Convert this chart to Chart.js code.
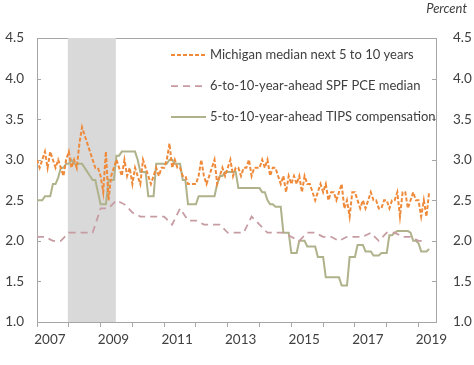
<!DOCTYPE html>
<html>
<head>
<meta charset="utf-8">
<script src="https://cdn.jsdelivr.net/npm/chart.js@4.4.1/dist/chart.umd.min.js"></script>
<style>
  html, body { margin: 0; padding: 0; background: #fff; }
  #wrap { width: 474px; height: 365px; }
</style>
</head>
<body>
<div id="wrap"><canvas id="chart" width="474" height="365"></canvas></div>
<script>
// Monthly series, starting Jan 2007
const michigan = [
  3.0, 2.9, 3.0, 3.1, 2.9, 3.1, 3.0, 2.9, 3.0, 2.9, 2.8, 3.0,
  3.1, 2.9, 3.0, 2.9, 3.2, 3.4, 3.3, 3.2, 3.1, 3.0, 2.9, 2.9,
  2.8, 2.6, 3.1, 2.5, 2.8, 2.9, 3.0, 2.9, 2.8, 3.0, 2.8, 2.9,
  2.7, 2.9, 2.8, 2.7, 3.0, 2.9, 2.8, 2.7, 2.8, 2.9, 2.8, 2.9,
  2.9, 3.0, 3.2, 2.9, 3.0, 2.9, 2.9, 2.8, 2.8, 2.7, 2.7, 2.7,
  2.7, 2.8, 3.0, 2.8, 2.7, 2.8, 2.9, 3.0, 2.7, 2.8, 2.9, 2.8,
  2.9, 3.0, 2.8, 2.9, 2.9, 2.8, 2.9, 2.9, 3.0, 2.8, 2.9, 2.9,
  2.9, 3.0, 2.9, 3.0, 2.8, 2.9, 2.9, 2.8, 2.7, 2.8, 2.6, 2.8,
  2.7, 2.8, 2.7, 2.8, 2.6, 2.8, 2.7, 2.7, 2.6, 2.5, 2.6, 2.7,
  2.6, 2.7, 2.5, 2.6, 2.6, 2.5, 2.6, 2.7, 2.4, 2.5, 2.3, 2.6,
  2.6, 2.5, 2.4, 2.5, 2.4, 2.5, 2.6, 2.5, 2.5, 2.4, 2.4, 2.5,
  2.5, 2.4, 2.5, 2.5, 2.6, 2.3, 2.6, 2.6, 2.4, 2.5, 2.6, 2.5,
  2.5, 2.3, 2.5, 2.3, 2.6
];
const tips = [
  2.5, 2.5, 2.5, 2.55, 2.55, 2.55, 2.7, 2.7, 2.78, 2.9, 2.9, 2.95,
  2.95, 3.0, 2.95, 2.95, 2.95, 2.95, 2.9, 2.85, 2.8, 2.75, 2.75, 2.6,
  2.45, 2.45, 2.45, 2.75, 2.75, 2.75, 3.05, 3.05, 3.1, 3.1, 3.1, 3.1,
  3.1, 3.1, 3.0, 2.85, 2.85, 2.85, 2.55, 2.55, 2.55, 2.95, 2.95, 2.95,
  2.95, 2.95, 3.0, 3.0, 2.95, 2.95, 2.95, 2.75, 2.75, 2.45, 2.45, 2.45,
  2.45, 2.55, 2.55, 2.55, 2.55, 2.55, 2.55, 2.55, 2.7, 2.8, 2.8, 2.85,
  2.85, 2.85, 2.85, 2.85, 2.65, 2.65, 2.65, 2.65, 2.65, 2.65, 2.65, 2.65,
  2.65, 2.6, 2.6, 2.5, 2.45, 2.45, 2.42, 2.42, 2.42, 2.1, 2.1, 2.1,
  1.85, 1.85, 1.85, 2.0, 2.0, 2.0, 1.93, 1.93, 1.93, 1.93, 1.8, 1.8,
  1.8, 1.55, 1.55, 1.55, 1.55, 1.55, 1.55, 1.45, 1.45, 1.45, 1.8, 1.8,
  1.8, 1.95, 1.95, 1.95, 1.87, 1.87, 1.87, 1.82, 1.82, 1.82, 1.85, 1.85,
  1.85, 2.07, 2.07, 2.1, 2.12, 2.12, 2.12, 2.12, 2.12, 2.1, 2.0, 2.0,
  1.97, 1.87, 1.87, 1.87, 1.9
];
// Quarterly, starting 2007 Q1
const spf = [
  2.05, 2.05, 2.0, 2.0, 2.1, 2.1, 2.1, 2.1, 2.4, 2.4,
  2.5, 2.45, 2.35, 2.3, 2.3, 2.3, 2.3, 2.2, 2.4, 2.25,
  2.25, 2.2, 2.2, 2.2, 2.1, 2.1, 2.1, 2.3, 2.2, 2.1,
  2.1, 2.1, 2.05, 2.0, 2.1, 2.1, 2.05, 2.05, 2.0, 2.05,
  2.05, 2.05, 2.1, 2.0, 2.1, 2.1, 2.05, 2.05, 2.0, 2.0
];
const startYear = 2007;
const endYear = 2019;
const yearLabels = [2007, 2009, 2011, 2013, 2015, 2017, 2019];
const recession = [2007.97, 2009.48];
const seriesNames = [
  'Michigan median next 5 to 10 years',
  '6-to-10-year-ahead SPF PCE median',
  '5-to-10-year-ahead TIPS compensation'
];

const FONT = 'Lato, "Open Sans", sans-serif';
const TEXT = '#404040';
const AXIS = '#a6a6a6';

const monthly = arr => arr.map((v, i) => ({ x: startYear + i / 12, y: v }));
const quarterly = arr => arr.map((v, i) => ({ x: startYear + i / 4, y: v }));
const isInt = v => Math.abs(v - Math.round(v)) < 1e-6;

// year boundaries get tick marks, mid-year positions carry the labels
const xTicks = [];
for (let yr = startYear; yr <= endYear; yr++) {
  xTicks.push({ value: yr });
  if (yearLabels.includes(yr)) xTicks.push({ value: yr + 0.5 });
}

// recession shading + inward y ticks
const backdrop = {
  id: 'backdrop',
  beforeDatasetsDraw(chart) {
    const { ctx, chartArea: a, scales } = chart;
    const x0 = scales.x.getPixelForValue(recession[0]);
    const x1 = scales.x.getPixelForValue(recession[1]);
    ctx.save();
    ctx.fillStyle = '#d9d9d9';
    ctx.fillRect(x0, a.top, x1 - x0, a.bottom - a.top);
    ctx.strokeStyle = AXIS;
    ctx.lineWidth = 1;
    scales.y.ticks.forEach(t => {
      const y = Math.round(scales.y.getPixelForValue(t.value)) + 0.5;
      ctx.beginPath();
      ctx.moveTo(a.left, y); ctx.lineTo(a.left + 4, y);
      ctx.moveTo(a.right - 4, y); ctx.lineTo(a.right, y);
      ctx.stroke();
    });
    ctx.restore();
  }
};

// legend inside plot + "Percent" label
const overlay = {
  id: 'overlay',
  afterDraw(chart) {
    const { ctx } = chart;
    const rows = [55, 86, 117];
    ctx.save();
    chart.data.datasets.forEach((ds, i) => {
      const y = rows[i];
      ctx.strokeStyle = ds.borderColor;
      ctx.lineWidth = ds.borderWidth;
      ctx.setLineDash(ds.borderDash || []);
      ctx.beginPath();
      ctx.moveTo(171, y); ctx.lineTo(206, y);
      ctx.stroke();
      ctx.setLineDash([]);
      ctx.fillStyle = TEXT;
      ctx.font = '13px ' + FONT;
      ctx.textAlign = 'left';
      ctx.textBaseline = 'middle';
      ctx.fillText(ds.label, 210, y);
    });
    ctx.font = 'italic 13px ' + FONT;
    ctx.textAlign = 'right';
    ctx.textBaseline = 'middle';
    ctx.fillText('Percent', 467, 9);
    ctx.restore();
  }
};

const yAxis = (position, pad, width) => ({
  type: 'linear',
  position: position,
  min: 1,
  max: 4.5,
  afterFit: s => { s.width = width; },
  ticks: {
    stepSize: 0.5,
    padding: pad,
    color: TEXT,
    font: { family: FONT, size: 13.5 },
    callback: v => v.toFixed(1)
  },
  grid: { drawOnChartArea: false, drawTicks: false },
  border: { display: true, color: AXIS, width: 1 }
});

new Chart(document.getElementById('chart'), {
  type: 'line',
  data: {
    datasets: [
      {
        label: seriesNames[0],
        data: monthly(michigan),
        borderColor: '#ef8a3a',
        borderWidth: 2,
        borderDash: [4, 2],
        pointRadius: 0,
        tension: 0
      },
      {
        label: seriesNames[1],
        data: quarterly(spf),
        borderColor: '#c69ba2',
        borderWidth: 1.75,
        borderDash: [7, 5],
        pointRadius: 0,
        tension: 0
      },
      {
        label: seriesNames[2],
        data: monthly(tips),
        borderColor: '#b0b28b',
        borderWidth: 2,
        pointRadius: 0,
        tension: 0
      }
    ]
  },
  options: {
    responsive: false,
    animation: false,
    devicePixelRatio: 1,
    layout: { padding: 0 },
    plugins: { legend: { display: false }, tooltip: { enabled: false } },
    scales: {
      x: {
        type: 'linear',
        position: 'bottom',
        min: 2007,
        max: 2019.55,
        afterFit: s => { s.height = 43; },
        afterBuildTicks: s => { s.ticks = xTicks.map(t => ({ value: t.value })); },
        ticks: {
          autoSkip: false,
          maxRotation: 0,
          padding: 5,
          labelOffset: -3,
          color: TEXT,
          font: { family: FONT, size: 13.5 },
          callback: v => isInt(v) ? '' : String(Math.floor(v))
        },
        grid: {
          drawOnChartArea: false,
          tickLength: 5,
          color: c => (c.tick && isInt(c.tick.value)) ? AXIS : 'rgba(0,0,0,0)'
        },
        border: { display: true, color: AXIS, width: 1 }
      },
      xTop: {
        type: 'linear',
        position: 'top',
        min: 2007,
        max: 2019.55,
        afterFit: s => { s.height = 38; },
        ticks: { display: false },
        grid: { display: false },
        border: { display: true, color: AXIS, width: 1 }
      },
      y: yAxis('left', 13, 37),
      yRight: yAxis('right', 17, 38)
    }
  },
  plugins: [backdrop, overlay]
});
</script>
</body>
</html>
